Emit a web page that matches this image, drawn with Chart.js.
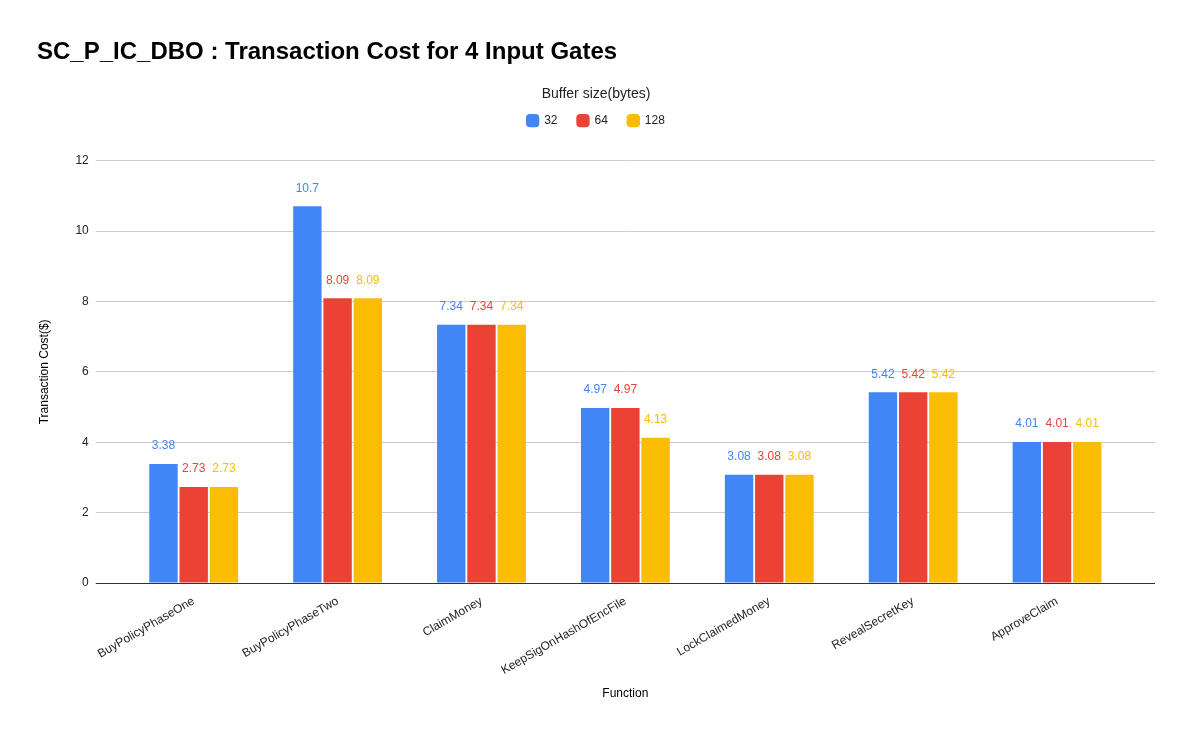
<!DOCTYPE html>
<html lang="en">
<head>
    <meta charset="UTF-8">
    <title>Transaction Cost</title>
    <script src="https://cdn.jsdelivr.net/npm/chart.js"></script>
    <style>
        body {
            margin: 0;
            background: #fff;
        }
        .grafico-container {
            width: 1192px;
            height: 737px;
        }
    </style>
</head>
<body>
    <div class="grafico-container">
        <canvas id="grafica"></canvas>
    </div>

    <script>
        // Datos
        const funciones = ['BuyPolicyPhaseOne', 'BuyPolicyPhaseTwo', 'ClaimMoney', 'KeepSigOnHashOfEncFile',
            'LockClaimedMoney', 'RevealSecretKey', 'ApproveClaim'];
        const buffer32 = [3.38, 10.7, 7.34, 4.97, 3.08, 5.42, 4.01];
        const buffer64 = [2.73, 8.09, 7.34, 4.97, 3.08, 5.42, 4.01];
        const buffer128 = [2.73, 8.09, 7.34, 4.13, 3.08, 5.42, 4.01];
        const ticksY = [0, 2, 4, 6, 8, 10, 12];

        const fuente = '"Liberation Sans", Arial, sans-serif';
        const colorGrid = ctx => ctx.tick && ctx.tick.value === 0 ? '#333' : '#ccc';

        // Etiquetas de valor encima de cada barra
        const etiquetas = {
            id: 'etiquetas',
            afterDatasetsDraw(chart) {
                const ctx = chart.ctx;
                ctx.save();
                ctx.font = '12px ' + fuente;
                ctx.textAlign = 'center';
                ctx.textBaseline = 'bottom';
                chart.data.datasets.forEach((ds, i) => {
                    chart.getDatasetMeta(i).data.forEach((bar, j) => {
                        ctx.fillStyle = ds.backgroundColor;
                        ctx.fillText(String(ds.data[j]), bar.x, bar.y - 12);
                    });
                });
                ctx.restore();
            }
        };

        // Espacio extra debajo de la leyenda
        const margenLeyenda = {
            id: 'margenLeyenda',
            beforeInit(chart) {
                const fitOriginal = chart.legend.fit;
                chart.legend.fit = function () {
                    fitOriginal.bind(chart.legend)();
                    this.height += 24;
                };
            }
        };

        const ctx = document.getElementById('grafica').getContext('2d');
        new Chart(ctx, {
            type: 'bar',
            data: {
                labels: funciones,
                datasets: [
                    { label: '32', data: buffer32, backgroundColor: '#4285F4' },
                    { label: '64', data: buffer64, backgroundColor: '#EA4335' },
                    { label: '128', data: buffer128, backgroundColor: '#FBBC04' }
                ]
            },
            options: {
                responsive: true,
                maintainAspectRatio: false,
                animation: false,
                datasets: {
                    bar: { categoryPercentage: 0.63, barPercentage: 0.94 }
                },
                layout: { padding: { left: 37, right: 37, top: 30, bottom: 32 } },
                plugins: {
                    title: {
                        display: true,
                        align: 'start',
                        text: 'SC_P_IC_DBO : Transaction Cost for 4 Input Gates',
                        color: '#000',
                        font: { family: fuente, size: 24, weight: 'bold' },
                        padding: { top: 8, bottom: 20 }
                    },
                    legend: {
                        position: 'top',
                        title: {
                            display: true,
                            text: 'Buffer size(bytes)',
                            color: '#222',
                            font: { family: fuente, size: 14 },
                            padding: { top: 0, bottom: -9 }
                        },
                        labels: {
                            usePointStyle: true,
                            pointStyle: 'rectRounded',
                            boxWidth: 11,
                            boxHeight: 11,
                            color: '#222',
                            font: { family: fuente, size: 12 },
                            padding: 20
                        }
                    },
                    tooltip: { enabled: false }
                },
                scales: {
                    x: {
                        grid: { display: false },
                        border: { color: '#333' },
                        ticks: {
                            color: '#222',
                            font: { family: fuente, size: 12 },
                            maxRotation: 30,
                            minRotation: 30
                        },
                        title: {
                            display: true,
                            text: 'Function',
                            color: '#000',
                            font: { family: fuente, size: 12 },
                            padding: { top: 6, bottom: 4 }
                        }
                    },
                    y: {
                        min: 0,
                        max: 12,
                        afterBuildTicks(axis) {
                            axis.ticks = ticksY.map(v => ({ value: v }));
                        },
                        grid: { color: colorGrid, tickColor: colorGrid, tickLength: 26 },
                        border: { display: false },
                        ticks: {
                            color: '#222',
                            padding: 7,
                            font: { family: fuente, size: 12 }
                        },
                        title: {
                            display: true,
                            text: 'Transaction Cost($)',
                            color: '#000',
                            font: { family: fuente, size: 12 },
                            padding: { top: 0, bottom: 17 }
                        }
                    },
                    yDerecha: {
                        position: 'right',
                        min: 0,
                        max: 12,
                        afterBuildTicks(axis) {
                            axis.ticks = ticksY.map(v => ({ value: v }));
                        },
                        grid: { drawOnChartArea: false, tickColor: colorGrid, tickLength: 26 },
                        border: { display: false },
                        ticks: { display: false }
                    }
                }
            },
            plugins: [etiquetas, margenLeyenda]
        });
    </script>
</body>
</html>
